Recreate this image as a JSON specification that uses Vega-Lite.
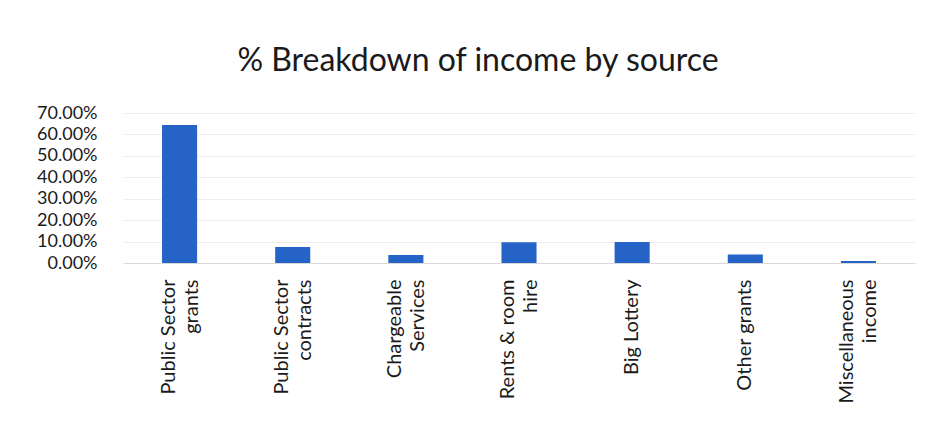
{
  "$schema": "https://vega.github.io/schema/vega-lite/v6.json",
  "autosize": "none",
  "width": 792,
  "height": 150,
  "padding": {"left": 123, "top": 113, "right": 24, "bottom": 171},
  "background": "white",
  "config": {"view": {"stroke": null}, "font": "Lato"},
  "title": {"text": "% Breakdown of income by source", "fontSize": 32, "fontWeight": "normal", "font": "Lato", "color": "#1a1a1a", "anchor": "middle", "dx": -41, "offset": 26},
  "data": {"values": [
    {"source": "Public Sector grants", "share": 0.644},
    {"source": "Public Sector contracts", "share": 0.075},
    {"source": "Chargeable Services", "share": 0.037},
    {"source": "Rents & room hire", "share": 0.097},
    {"source": "Big Lottery", "share": 0.098},
    {"source": "Other grants", "share": 0.04},
    {"source": "Miscellaneous income", "share": 0.009}
  ]},
  "mark": {"type": "bar", "color": "#2563c7"},
  "encoding": {
    "x": {"field": "source", "type": "nominal", "sort": null,
      "scale": {"paddingInner": 0.69, "paddingOuter": 0.345},
      "axis": {"title": null, "labelAngle": -90, "labelFontSize": 20, "labelColor": "#1a1a1a", "labelPadding": 16, "ticks": false, "domainColor": "#d9d9d9", "labelLineHeight": 23,
        "labelOffset": {"condition": {"test": "datum.value == 'Big Lottery' || datum.value == 'Other grants'", "value": 0}, "value": -11},
        "labelExpr": "datum.value == 'Public Sector grants' ? ['Public Sector', 'grants'] : datum.value == 'Public Sector contracts' ? ['Public Sector', 'contracts'] : datum.value == 'Chargeable Services' ? ['Chargeable', 'Services'] : datum.value == 'Rents & room hire' ? ['Rents & room', 'hire'] : datum.value == 'Miscellaneous income' ? ['Miscellaneous', 'income'] : datum.value"}},
    "y": {"field": "share", "type": "quantitative",
      "scale": {"domain": [0, 0.7], "nice": false},
      "axis": {"title": null, "format": ".2%", "values": [0, 0.1, 0.2, 0.3, 0.4, 0.5, 0.6, 0.7], "labelFontSize": 18, "labelColor": "#1a1a1a", "labelPadding": 26, "ticks": false, "domain": false, "gridColor": "#eeeeee"}}
  }
}
